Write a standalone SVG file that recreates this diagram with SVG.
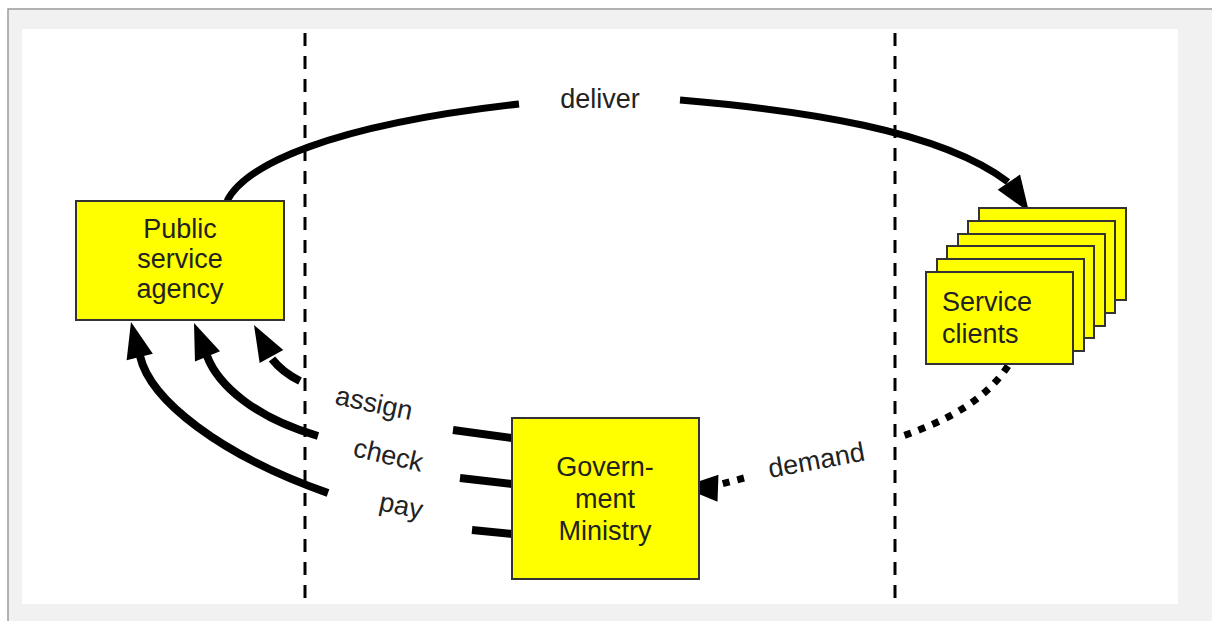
<svg xmlns="http://www.w3.org/2000/svg" xmlns:xlink="http://www.w3.org/1999/xlink" width="1212" height="621" viewBox="0 0 1212 621">
<style>
.box{fill:#ffff00;stroke:#333;stroke-width:2}
.lbl{font-family:"Liberation Sans",Arial,sans-serif;font-size:27px;fill:#222}
.mid{text-anchor:middle}
.thick{fill:none;stroke:#000;stroke-width:8;stroke-linecap:butt}
.dot{fill:none;stroke:#000;stroke-width:7;stroke-dasharray:7 8}
.sep{stroke:#000;stroke-width:3;stroke-dasharray:13 10}
</style>
<defs>
<path id="ah" d="M0,0 L-36,-13.5 L-36,13.5 Z" fill="#000"/>
</defs>
<rect x="0" y="0" width="1212" height="621" fill="#fff"/>
<rect x="8" y="9" width="1210" height="620" fill="#f1f1f1" stroke="#9a9a9a" stroke-width="1.5"/>
<rect x="22" y="29" width="1156" height="575" fill="#fff"/>
<g id="separators">
<line class="sep" x1="305" y1="33" x2="305" y2="604"/>
<line class="sep" x1="895" y1="33" x2="895" y2="604"/>
</g>
<g id="connectors">
<path class="thick" style="stroke-width:7" d="M227,201 C245,165 330,125 519,104"/>
<path class="thick" style="stroke-width:7" d="M680,100 C800,110 940,130 1008,182"/>
<use xlink:href="#ah" transform="translate(1029,212) rotate(56)"/>
<text class="lbl mid" x="600" y="108">deliver</text>
<path class="thick" d="M272,359 Q282,372 300,381"/>
<use xlink:href="#ah" transform="translate(254,325) rotate(-119)"/>
<path class="thick" d="M207,356 C218,385 255,418 318,436"/>
<use xlink:href="#ah" transform="translate(194,323) rotate(-112)"/>
<path class="thick" d="M140,356 C150,400 220,455 328,493"/>
<use xlink:href="#ah" transform="translate(131,322) rotate(-104)"/>
<line class="thick" x1="453" y1="430" x2="512" y2="438"/>
<line class="thick" x1="460" y1="478" x2="512" y2="484"/>
<line class="thick" x1="472" y1="530" x2="512" y2="534"/>
<text class="lbl" transform="translate(334,404) rotate(12)">assign</text>
<text class="lbl" transform="translate(352,456) rotate(13)">check</text>
<text class="lbl" transform="translate(378,510) rotate(12)">pay</text>
<path class="dot" d="M1008,366 C985,400 950,420 897,438"/>
<path class="dot" d="M744,478 L714,486"/>
<use xlink:href="#ah" transform="translate(682,487) rotate(182)"/>
<text class="lbl" transform="translate(770,478) rotate(-10.5)">demand</text>
</g>
<g id="agency">
<rect class="box" x="76" y="201" width="208" height="119"/>
<text class="lbl mid" x="180" y="238">Public</text>
<text class="lbl mid" x="180" y="268">service</text>
<text class="lbl mid" x="180" y="298">agency</text>
</g>
<g id="clients">
<rect class="box" x="979" y="208" width="147" height="92"/>
<rect class="box" x="968" y="221" width="147" height="92"/>
<rect class="box" x="958" y="234" width="147" height="92"/>
<rect class="box" x="947" y="246" width="147" height="92"/>
<rect class="box" x="937" y="259" width="147" height="92"/>
<rect class="box" x="926" y="272" width="147" height="92"/>
<text class="lbl" x="942" y="311">Service</text>
<text class="lbl" x="942" y="343">clients</text>
</g>
<g id="ministry">
<rect class="box" x="512" y="418" width="187" height="161"/>
<text class="lbl mid" x="605" y="476">Govern-</text>
<text class="lbl mid" x="605" y="508">ment</text>
<text class="lbl mid" x="605" y="540">Ministry</text>
</g>
</svg>
